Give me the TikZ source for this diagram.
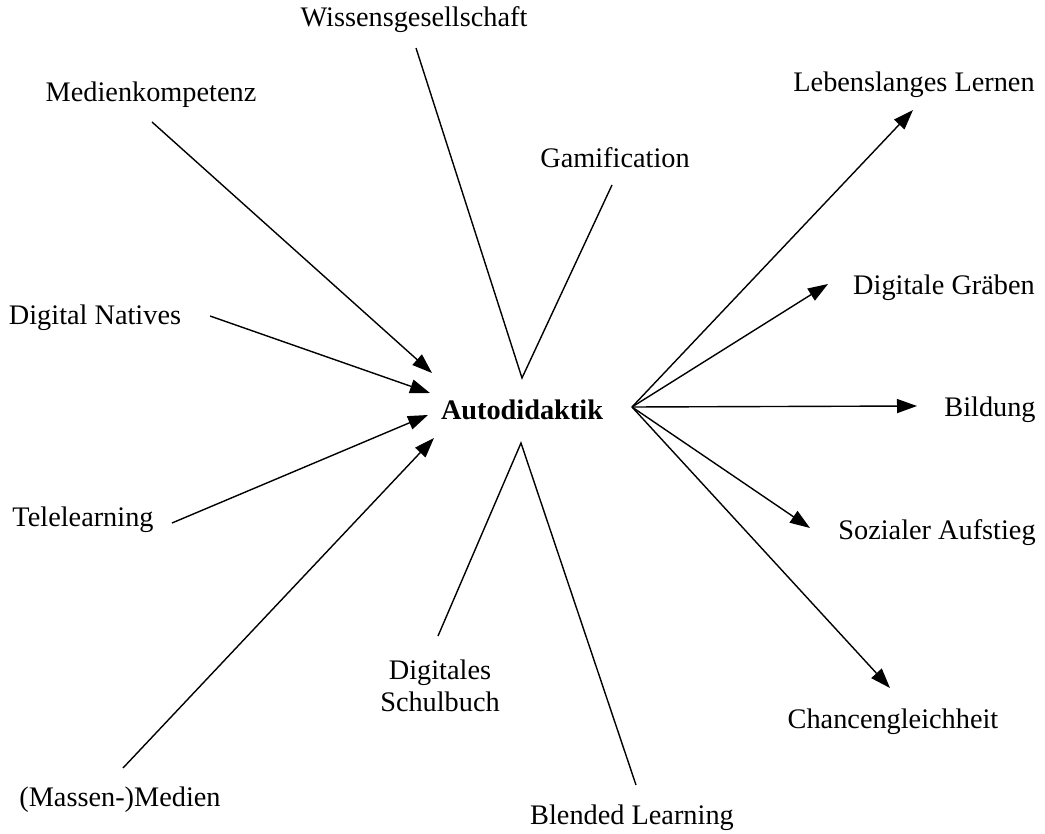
\documentclass[tikz,border=0pt]{standalone}
\usepackage{fontspec}
\setmainfont{Liberation Serif}
\usetikzlibrary{arrows.meta}
\begin{document}
\begin{tikzpicture}[x=1pt,y=-1pt,
  lbl/.style={inner sep=0pt,font=\fontsize{28.3}{32}\selectfont,align=center},
  conn/.style={line width=1.4pt},
  arr/.style={conn,-{Triangle[length=20pt,width=14pt]}}]
\useasboundingbox (0,0) rectangle (1045,834);
% labels
\node[lbl] (wis) at (414,20) {Wissensgesellschaft};
\node[lbl] (med) at (151,95) {Medienkompetenz};
\node[lbl] (gam) at (615,158) {Gamification};
\node[lbl] (leb) at (914,85) {Lebenslanges Lernen};
\node[lbl] (dgr) at (944,288) {Digitale Gräben};
\node[lbl] (dna) at (95,318) {Digital Natives};
\node[lbl,font=\fontsize{28.3}{32}\selectfont\bfseries] (aut) at (522,410) {Autodidaktik};
\node[lbl] (bil) at (990,410) {Bildung};
\node[lbl] (tel) at (83,520) {Telelearning};
\node[lbl] (soz) at (937,533) {Sozialer Aufstieg};
\node[lbl] (dsb) at (440,686) {Digitales\\Schulbuch};
\node[lbl] (mas) at (120,800) {(Massen-)Medien};
\node[lbl] (ble) at (632,818) {Blended Learning};
\node[lbl] (cha) at (893,722) {Chancengleichheit};
% connector end points
\coordinate (medS) at (152,122);
\coordinate (medT) at (432,373);
\coordinate (wisS) at (416,48);
\coordinate (autTop) at (522,378);
\coordinate (gamS) at (612,185);
\coordinate (dnaS) at (210,316);
\coordinate (dnaT) at (430,393);
\coordinate (telS) at (172,523);
\coordinate (telT) at (428,415);
\coordinate (masS) at (123,768);
\coordinate (masT) at (434,438);
\coordinate (dsbS) at (438,636);
\coordinate (autBot) at (521,443);
\coordinate (bleS) at (636,785);
\coordinate (autR) at (632,407);
\coordinate (lebT) at (913,110);
\coordinate (dgrT) at (828,284);
\coordinate (bilT) at (917,406);
\coordinate (sozT) at (810,528);
\coordinate (chaT) at (890,688);
% incoming
\draw[arr] (medS) -- (medT);
\draw[arr] (dnaS) -- (dnaT);
\draw[arr] (telS) -- (telT);
\draw[arr] (masS) -- (masT);
% plain lines
\draw[conn] (wisS) -- (autTop) -- (gamS);
\draw[conn] (dsbS) -- (autBot) -- (bleS);
% outgoing
\draw[arr] (autR) -- (lebT);
\draw[arr] (autR) -- (dgrT);
\draw[arr] (autR) -- (bilT);
\draw[arr] (autR) -- (sozT);
\draw[arr] (autR) -- (chaT);
\end{tikzpicture}
\end{document}
